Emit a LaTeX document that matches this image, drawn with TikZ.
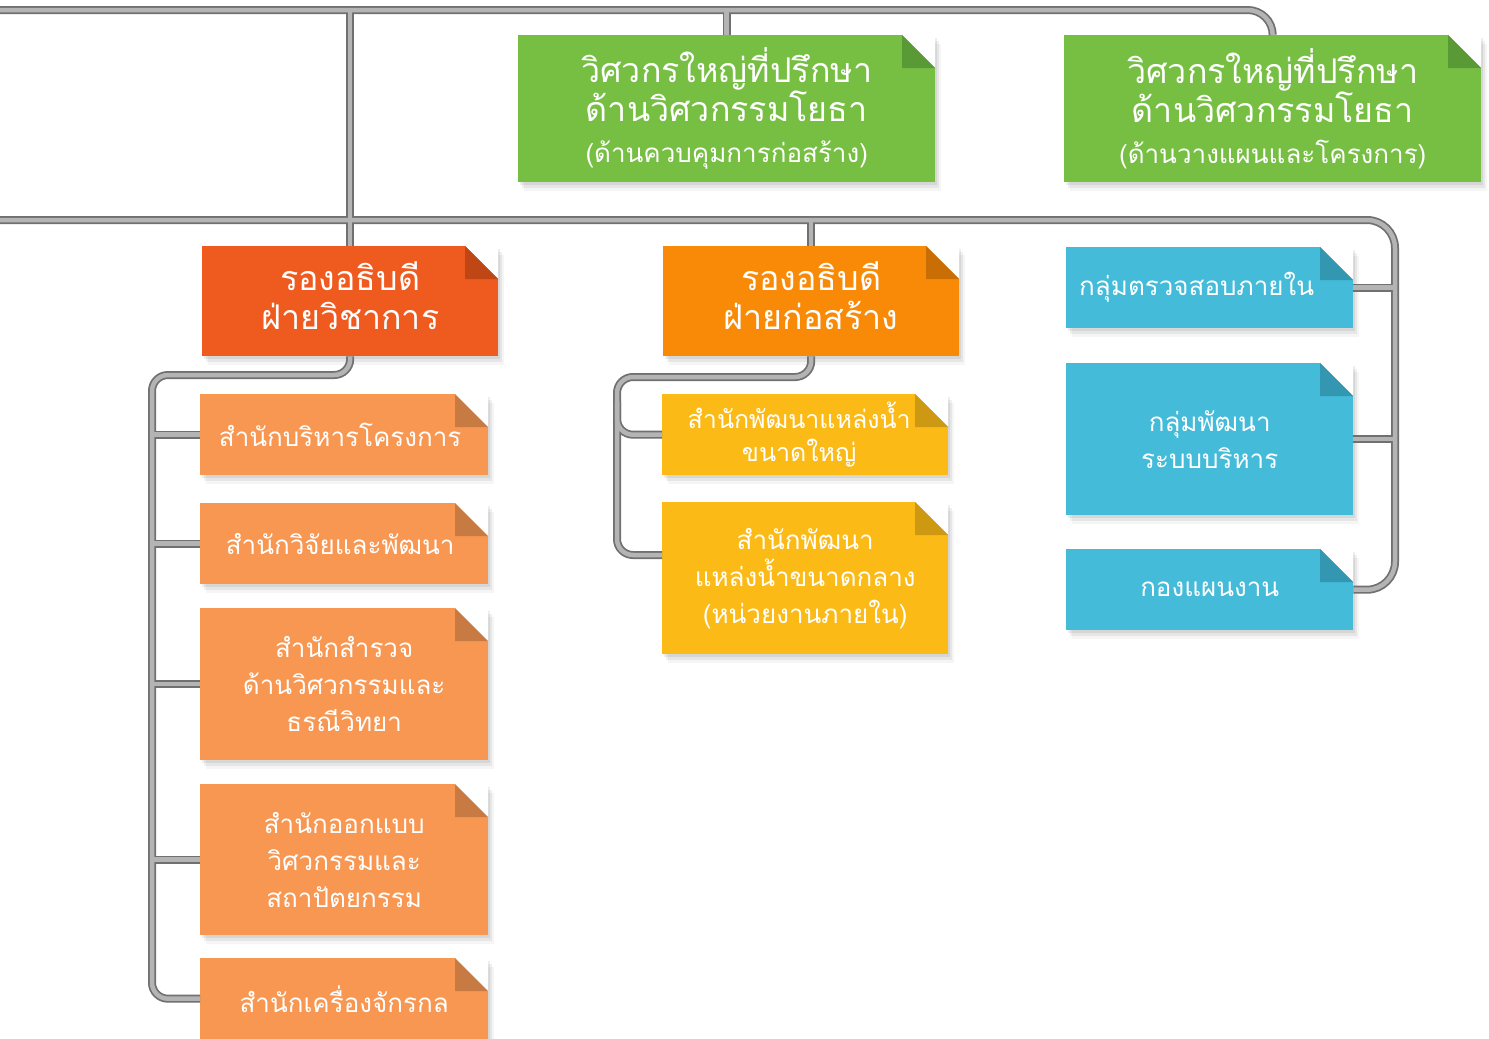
\documentclass[tikz,border=0pt]{standalone}
\usepackage{fontspec}
\newfontfamily\thai[Script=Thai]{Loma}
\usetikzlibrary{shadows}
\definecolor{cgreen}{HTML}{76BF43}\definecolor{fgreen}{HTML}{5A9A36}
\definecolor{chead}{HTML}{EF5A1E}\definecolor{fhead}{HTML}{BF4715}
\definecolor{chead2}{HTML}{F98A08}\definecolor{fhead2}{HTML}{C96E05}
\definecolor{csub}{HTML}{F79752}\definecolor{fsub}{HTML}{C77A42}
\definecolor{cyel}{HTML}{FBBA16}\definecolor{fyel}{HTML}{CD9912}
\definecolor{cblue}{HTML}{43BBD9}\definecolor{fblue}{HTML}{3497B2}
\definecolor{pipedark}{HTML}{707070}\definecolor{pipelight}{HTML}{B4B4B4}
\tikzset{
  card/.style 2 args={draw=none, inner sep=0pt, anchor=north west, text=white, align=center,
    font=\thai\fontsize{26}{37}\selectfont,
    general shadow={shadow xshift=2pt, shadow yshift=-3pt, opacity=0.07, fill=black},
    general shadow={shadow xshift=4pt, shadow yshift=-6pt, opacity=0.06, fill=black},
    general shadow={shadow xshift=6pt, shadow yshift=-9pt, opacity=0.04, fill=black},
    path picture={
      \fill[#1] (path picture bounding box.south west) rectangle (path picture bounding box.north east);
      \fill[white] ([xshift=-33pt]path picture bounding box.north east) -- (path picture bounding box.north east) -- ([yshift=-33pt]path picture bounding box.north east) -- cycle;
      \fill[#2] ([xshift=-33pt]path picture bounding box.north east) -- ([xshift=-33pt,yshift=-33pt]path picture bounding box.north east) -- ([yshift=-33pt]path picture bounding box.north east) -- cycle;
    }},
  big/.style={font=\thai\fontsize{34}{39}\selectfont},
}
\newcommand\mypipes{%
  \draw[pipe, rounded corners=25pt] (L1) -| (g2.north);
  \draw[pipe] (h1.north |- L1) -- (h1.north);
  \draw[pipe] (g1.north |- L1) -- (g1.north);
  \draw[pipe, rounded corners=28pt] (L2) -- (R) |- (j.east);
  \draw[pipe] (h.east) -- (h.east -| R);
  \draw[pipe] (i.east) -- (i.east -| R);
  \draw[pipe] (h2.north |- L2) -- (h2.north);
  \draw[pipe, rounded corners=16pt] (h1.south) |- (P) |- (e.west);
  \draw[pipe] (a.west -| P) -- (a.west);
  \draw[pipe] (b.west -| P) -- (b.west);
  \draw[pipe] (c.west -| P) -- (c.west);
  \draw[pipe] (d.west -| P) -- (d.west);
  \draw[pipe, rounded corners=16pt] (h2.south) |- (Q) |- ([yshift=-53pt]g.north west);
  \draw[pipe, rounded corners=16pt] ([yshift=-25pt]Q) |- (f.west);
}
\begin{document}
\begin{tikzpicture}[x=1pt,y=-1pt]
\useasboundingbox[fill=white] (0,0) rectangle (1489,1039);
\coordinate (L1) at (0,10);
\coordinate (L2) at (0,220);
\coordinate (R) at (1395,220);
\coordinate (P) at (152,375);
\coordinate (Q) at (617,377);
% top advisors
\node[card={cgreen}{fgreen}, big, minimum width=417pt, minimum height=147pt] (g1) at (518,35)
  {วิศวกรใหญ่ที่ปรึกษา\\ด้านวิศวกรรมโยธา\\[2pt]\fontsize{26}{30}\selectfont (ด้านควบคุมการก่อสร้าง)};
\node[card={cgreen}{fgreen}, big, minimum width=417pt, minimum height=147pt] (g2) at (1064,35)
  {วิศวกรใหญ่ที่ปรึกษา\\ด้านวิศวกรรมโยธา\\[2pt]\fontsize{26}{30}\selectfont (ด้านวางแผนและโครงการ)};
% deputy heads
\node[card={chead}{fhead}, big, minimum width=296pt, minimum height=110pt] (h1) at (202,246) {รองอธิบดี\\ฝ่ายวิชาการ\\[-27pt]};
\node[card={chead2}{fhead2}, big, minimum width=296pt, minimum height=110pt] (h2) at (663,246) {รองอธิบดี\\ฝ่ายก่อสร้าง\\[-27pt]};
% left column
\node[card={csub}{fsub}, minimum width=288pt, minimum height=81pt] (a) at (200,394) {สำนักบริหารโครงการ\hspace*{8pt}};
\node[card={csub}{fsub}, minimum width=288pt, minimum height=81pt] (b) at (200,503) {สำนักวิจัยและพัฒนา\hspace*{8pt}};
\node[card={csub}{fsub}, minimum width=288pt, minimum height=152pt] (c) at (200,608) {สำนักสำรวจ\\ด้านวิศวกรรมและ\\ธรณีวิทยา};
\node[card={csub}{fsub}, minimum width=288pt, minimum height=151pt] (d) at (200,784) {สำนักออกแบบ\\วิศวกรรมและ\\สถาปัตยกรรม};
\node[card={csub}{fsub}, minimum width=288pt, minimum height=81pt] (e) at (200,958) {สำนักเครื่องจักรกล};
% middle column
\node[card={cyel}{fyel}, font=\thai\fontsize{25}{33}\selectfont, minimum width=286pt, minimum height=81pt] (f) at (662,394) {สำนักพัฒนาแหล่งน้ำ\hspace*{12pt}\\ขนาดใหญ่\hspace*{12pt}};
\node[card={cyel}{fyel}, minimum width=286pt, minimum height=152pt] (g) at (662,502) {สำนักพัฒนา\\แหล่งน้ำขนาดกลาง\\(หน่วยงานภายใน)};
% right column
\node[card={cblue}{fblue}, minimum width=287pt, minimum height=81pt] (h) at (1066,247) {กลุ่มตรวจสอบภายใน\hspace*{26pt}};
\node[card={cblue}{fblue}, minimum width=287pt, minimum height=152pt] (i) at (1066,363) {กลุ่มพัฒนา\\ระบบบริหาร};
\node[card={cblue}{fblue}, minimum width=287pt, minimum height=81pt] (j) at (1066,549) {กองแผนงาน};
% pipes
\begin{scope}[pipe/.style={line width=8pt, draw=pipedark}]\mypipes\end{scope}
\begin{scope}[shift={(-1pt,1pt)}, pipe/.style={line width=4.5pt, draw=pipelight}]\mypipes\end{scope}
\end{tikzpicture}
\end{document}
